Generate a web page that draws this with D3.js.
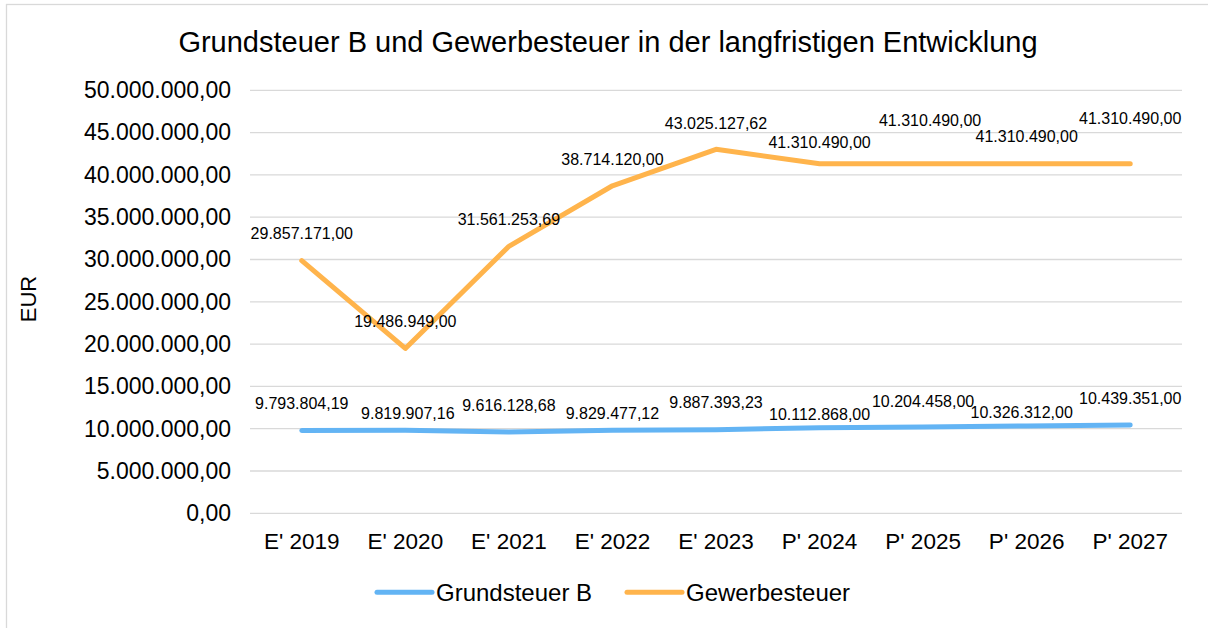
<!DOCTYPE html>
<html>
<head>
<meta charset="utf-8">
<script src="https://cdn.jsdelivr.net/npm/d3@7"></script>
<style>
  html, body { margin: 0; padding: 0; background: #fff; }
  svg { display: block; font-family: "Liberation Sans", Arial, sans-serif; }
</style>
</head>
<body>
<svg id="chart" width="1208" height="628"></svg>
<script>
// ---- data ----
const categories = ["E' 2019", "E' 2020", "E' 2021", "E' 2022", "E' 2023", "P' 2024", "P' 2025", "P' 2026", "P' 2027"];
const grundsteuerB = [9793804.19, 9819907.16, 9616128.68, 9829477.12, 9887393.23, 10112868.00, 10204458.00, 10326312.00, 10439351.00];
const gewerbesteuer = [29857171.00, 19486949.00, 31561253.69, 38714120.00, 43025127.62, 41310490.00, 41310490.00, 41310490.00, 41310490.00];
const yTicks = [0, 5000000, 10000000, 15000000, 20000000, 25000000, 30000000, 35000000, 40000000, 45000000, 50000000];
const seriesNames = ["Grundsteuer B", "Gewerbesteuer"];
const titleText = "Grundsteuer B und Gewerbesteuer in der langfristigen Entwicklung";
const yAxisTitle = "EUR";

// ---- layout (label placement as in the reference) ----
const labelDyB = [-27, -17, -27, -17, -27, -13, -26, -14, -27];
const labelDxB = [0, 2.5, 0, 0, 0, 0, 0, -5, 0];
const labelDyG = [-27, -27, -27, -26.5, -26, -21, -43, -27, -45];
const labelDxG = [0, 0, 0, 0, 0, 0, 7, 0, 0];

const colors = ["#63B4F4", "#FFB44C"];

const de = d3.formatLocale({decimal: ",", thousands: ".", grouping: [3], currency: ["", " €"]});
const fmt = de.format(",.2f");

const svg = d3.select("#chart");

// outer frame
svg.append("rect")
  .attr("x", 6.5).attr("y", 4.5)
  .attr("width", 1240).attr("height", 660)
  .attr("fill", "#fff").attr("stroke", "#d9d9d9").attr("stroke-width", 1.3);

const plot = {left: 250, right: 1182, top: 90.3, bottom: 513.3};

const x = d3.scaleBand().domain(categories).range([plot.left, plot.right]).padding(0);
const y = d3.scaleLinear().domain([0, 50000000]).range([plot.bottom, plot.top]);

// gridlines
svg.append("g")
  .selectAll("line").data(yTicks).join("line")
  .attr("x1", plot.left).attr("x2", plot.right)
  .attr("y1", d => y(d)).attr("y2", d => y(d))
  .attr("stroke", "#d9d9d9").attr("stroke-width", 1.3);

// y axis labels
const yAxis = svg.append("g")
  .attr("transform", `translate(${plot.left - 19},0)`)
  .call(d3.axisLeft(y).tickValues(yTicks).tickFormat(fmt).tickSize(0).tickPadding(0));
yAxis.select(".domain").remove();
yAxis.selectAll("text")
  .attr("font-size", 23).attr("fill", "#000")
  .attr("font-family", "'Liberation Sans', Arial, sans-serif");

// x axis labels
const xAxis = svg.append("g")
  .attr("transform", `translate(0,${plot.bottom + 20})`)
  .call(d3.axisBottom(x).tickSize(0).tickPadding(0));
xAxis.select(".domain").remove();
xAxis.selectAll("text")
  .attr("font-size", 22.5).attr("fill", "#000")
  .attr("font-family", "'Liberation Sans', Arial, sans-serif");

// title
svg.append("text")
  .attr("x", 608).attr("y", 52)
  .attr("text-anchor", "middle")
  .attr("font-size", 29).attr("fill", "#000")
  .text(titleText);

// y axis title
svg.append("text")
  .attr("transform", "translate(36,299) rotate(-90)")
  .attr("text-anchor", "middle")
  .attr("font-size", 22).attr("fill", "#000")
  .text(yAxisTitle);

// lines
const line = d3.line()
  .x((d, i) => x(categories[i]) + x.bandwidth() / 2)
  .y(d => y(d));

const series = [grundsteuerB, gewerbesteuer];
series.forEach((vals, s) => {
  svg.append("path")
    .datum(vals)
    .attr("d", line)
    .attr("fill", "none")
    .attr("stroke", colors[s])
    .attr("stroke-width", 5)
    .attr("stroke-linecap", "round")
    .attr("stroke-linejoin", "round");
});

// data labels
const labelSets = [
  {vals: grundsteuerB, dy: labelDyB, dx: labelDxB},
  {vals: gewerbesteuer, dy: labelDyG, dx: labelDxG}
];
labelSets.forEach(set => {
  svg.append("g").selectAll("text").data(set.vals).join("text")
    .attr("x", (d, i) => x(categories[i]) + x.bandwidth() / 2 + set.dx[i])
    .attr("y", (d, i) => y(d) + set.dy[i])
    .attr("dy", "0.35em")
    .attr("text-anchor", "middle")
    .attr("font-size", 16).attr("fill", "#000")
    .text(d => fmt(d));
});

// legend
const legendItems = [
  {name: seriesNames[0], color: colors[0], x0: 377},
  {name: seriesNames[1], color: colors[1], x0: 627}
];
const lg = svg.append("g");
legendItems.forEach(it => {
  lg.append("line")
    .attr("x1", it.x0).attr("x2", it.x0 + 55)
    .attr("y1", 592.3).attr("y2", 592.3)
    .attr("stroke", it.color).attr("stroke-width", 5)
    .attr("stroke-linecap", "round");
  lg.append("text")
    .attr("x", it.x0 + 59).attr("y", 600.7)
    .attr("font-size", 24).attr("fill", "#000")
    .text(it.name);
});
</script>
</body>
</html>
